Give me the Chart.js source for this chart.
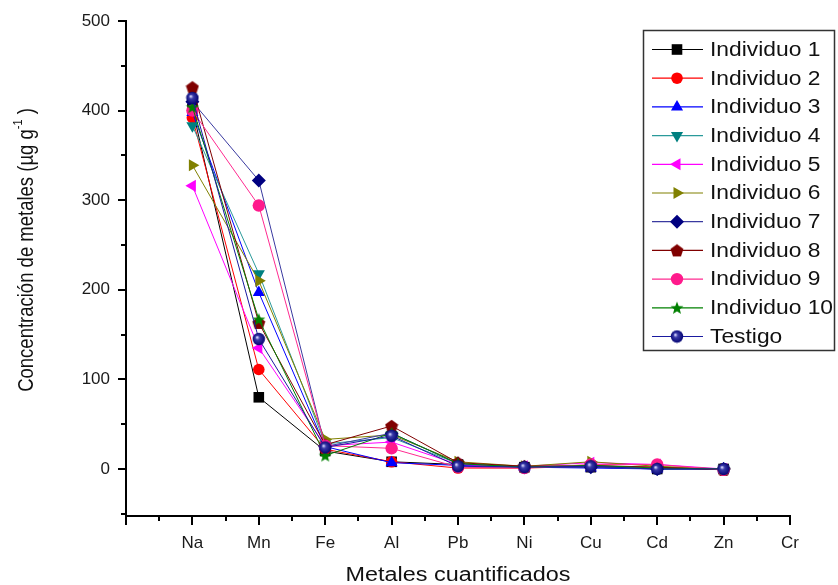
<!DOCTYPE html>
<html>
<head>
<meta charset="utf-8">
<script src="https://cdn.jsdelivr.net/npm/chart.js@4/dist/chart.umd.min.js"></script>
<style>
  html, body { margin: 0; padding: 0; background: #fff; }
  #wrap { width: 838px; height: 585px; }
</style>
</head>
<body>
<div id="wrap"><canvas id="chart" width="838" height="585"></canvas></div>
<script>
// metals on the x axis (position 1..10), no data for Cr
const metals = ['Na', 'Mn', 'Fe', 'Al', 'Pb', 'Ni', 'Cu', 'Cd', 'Zn', 'Cr'];
const yTicks = [0, 100, 200, 300, 400, 500];

const individuo1  = [402,  80, 20,  8, 5, 2, 2, 0,  0];
const individuo2  = [392, 111, 22,  8, 1, 1, 3, 2,  0];
const individuo3  = [398, 197, 25,  7, 4, 2, 1, 0,  0];
const individuo4  = [383, 218, 28, 35, 6, 2, 3, 0,  0];
const individuo5  = [316, 135, 26, 30, 5, 3, 7, 5,  0];
const individuo6  = [339, 210, 33, 38, 8, 3, 8, 3,  0];
const individuo7  = [410, 322, 25, 40, 6, 2, 2, 0,  0];
const individuo8  = [426, 163, 27, 48, 7, 3, 4, 2, -1];
const individuo9  = [400, 294, 26, 23, 2, 1, 5, 5, -1];
const individuo10 = [404, 167, 15, 40, 6, 2, 4, 1,  0];
const testigo     = [414, 145, 24, 37, 3, 2, 3, 0,  0];

// little canvases for the marker shapes chart.js does not have
function markerCanvas(size, paint) {
    const c = document.createElement('canvas');
    c.width = size; c.height = size;
    paint(c.getContext('2d'), size / 2);
    return c;
}
const pentagon = markerCanvas(14, (g, m) => {
    g.fillStyle = '#800000';
    g.beginPath();
    for (let k = 0; k < 5; k++) {
        const a = -Math.PI / 2 + k * 2 * Math.PI / 5;
        g.lineTo(m + Math.cos(a) * 6.8, m + 0.6 + Math.sin(a) * 6.8);
    }
    g.closePath(); g.fill();
});
const star = markerCanvas(14, (g, m) => {
    g.fillStyle = '#008000';
    g.beginPath();
    for (let k = 0; k < 10; k++) {
        const a = -Math.PI / 2 + k * Math.PI / 5;
        const r = k % 2 ? 2.9 : 6.8;
        g.lineTo(m + Math.cos(a) * r, m + 0.6 + Math.sin(a) * r);
    }
    g.closePath(); g.fill();
});
const sphere = markerCanvas(14, (g, m) => {
    const grad = g.createRadialGradient(m - 1.8, m - 1.8, 0.4, m, m, 6.5);
    grad.addColorStop(0, '#d8d8ff');
    grad.addColorStop(0.3, '#3a3aa8');
    grad.addColorStop(1, '#000070');
    g.fillStyle = grad;
    g.beginPath(); g.arc(m, m, 6.2, 0, Math.PI * 2); g.fill();
});

const seriesDefs = [
    { label: 'Individuo 1',  values: individuo1,  line: '#000000', fill: '#000000', style: 'rect',     radius: 7.5, rot: 0 },
    { label: 'Individuo 2',  values: individuo2,  line: '#ff0000', fill: '#ff0000', style: 'circle',   radius: 5.8, rot: 0 },
    { label: 'Individuo 3',  values: individuo3,  line: '#0000ff', fill: '#0000ff', style: 'triangle', radius: 7,   rot: 0 },
    { label: 'Individuo 4',  values: individuo4,  line: '#2a9a9a', fill: '#008080', style: 'triangle', radius: 7,   rot: 180 },
    { label: 'Individuo 5',  values: individuo5,  line: '#ff00ff', fill: '#ff00ff', style: 'triangle', radius: 7,   rot: 270 },
    { label: 'Individuo 6',  values: individuo6,  line: '#808000', fill: '#808000', style: 'triangle', radius: 7,   rot: 90 },
    { label: 'Individuo 7',  values: individuo7,  line: '#3a3aa0', fill: '#000080', style: 'rectRot',  radius: 7,   rot: 0 },
    { label: 'Individuo 8',  values: individuo8,  line: '#800000', fill: '#800000', style: pentagon,   radius: 7,   rot: 0 },
    { label: 'Individuo 9',  values: individuo9,  line: '#ff2a90', fill: '#ff1a8c', style: 'circle',   radius: 6.2, rot: 0 },
    { label: 'Individuo 10', values: individuo10, line: '#008000', fill: '#008000', style: star,       radius: 7,   rot: 0 },
    { label: 'Testigo',      values: testigo,     line: '#1a1aa0', fill: '#000080', style: sphere,     radius: 7,   rot: 0 }
];

const datasets = seriesDefs.map((s, i) => ({
    label: s.label,
    data: s.values.map((v, j) => ({ x: j + 1, y: v })),
    borderColor: s.line,
    backgroundColor: s.fill,
    pointBackgroundColor: s.fill,
    pointBorderColor: s.fill,
    pointBorderWidth: 0,
    borderWidth: 1,
    pointStyle: s.style,
    pointRadius: s.radius,
    pointRotation: s.rot,
    tension: 0,
    order: seriesDefs.length - i   // later series on top, like the original
}));

const FONT = '"Liberation Sans", Arial, sans-serif';
const STRETCH = 1.17; // the original picture is a bit wide

// ticks (major + minor), axis titles and the boxed legend
const extrasPlugin = {
    id: 'extras',
    afterDraw(chart) {
        const ctx = chart.ctx;
        const xs = chart.scales.x, ys = chart.scales.y;
        const area = chart.chartArea;
        ctx.save();
        ctx.strokeStyle = '#000';
        ctx.lineWidth = 2;
        ctx.beginPath();
        for (let v = 0; v <= 10; v += 0.5) {
            const px = Math.round(xs.getPixelForValue(v));
            const len = Number.isInteger(v) ? 9 : 5;
            ctx.moveTo(px, area.bottom); ctx.lineTo(px, area.bottom + len);
        }
        for (let v = -50; v <= 500; v += 50) {
            const py = Math.round(ys.getPixelForValue(v));
            const len = v % 100 === 0 ? 8 : 5;
            ctx.moveTo(area.left, py); ctx.lineTo(area.left - len, py);
        }
        ctx.stroke();

        // x title
        ctx.fillStyle = '#111';
        ctx.textBaseline = 'middle';
        ctx.textAlign = 'center';
        ctx.save();
        ctx.translate((area.left + area.right) / 2, 575);
        ctx.scale(STRETCH, 1);
        ctx.font = '20px ' + FONT;
        ctx.fillText('Metales cuantificados', 0, 0);
        ctx.restore();

        // y title with superscript
        ctx.save();
        ctx.translate(27, 250);
        ctx.rotate(-Math.PI / 2);
        ctx.scale(1, STRETCH);
        const main = 'Concentración de metales (µg g';
        const sup = '-1';
        const tail = ' )';
        ctx.font = '18.5px ' + FONT;
        const wMain = ctx.measureText(main).width;
        const wTail = ctx.measureText(tail).width;
        ctx.font = '11px ' + FONT;
        const wSup = ctx.measureText(sup).width;
        let x0 = -(wMain + wSup + wTail) / 2;
        ctx.textAlign = 'left';
        ctx.font = '18.5px ' + FONT;
        ctx.fillText(main, x0, 0);
        ctx.font = '11px ' + FONT;
        ctx.fillText(sup, x0 + wMain, -7);
        ctx.font = '18.5px ' + FONT;
        ctx.fillText(tail, x0 + wMain + wSup, 0);
        ctx.restore();

        // legend
        const bx = 643.5, by = 30.5, bw = 191, bh = 320;
        ctx.fillStyle = '#fff';
        ctx.fillRect(bx, by, bw, bh);
        ctx.strokeStyle = '#333';
        ctx.lineWidth = 1.5;
        ctx.strokeRect(bx, by, bw, bh);
        chart.data.datasets.forEach((ds, i) => {
            const y = 49.5 + i * 28.7;
            ctx.strokeStyle = ds.borderColor;
            ctx.lineWidth = 1.2;
            ctx.beginPath();
            ctx.moveTo(652, y); ctx.lineTo(703, y);
            ctx.stroke();
            ctx.fillStyle = ds.pointBackgroundColor;
            ctx.strokeStyle = ds.pointBackgroundColor;
            Chart.helpers.drawPoint(ctx, {
                pointStyle: ds.pointStyle,
                rotation: ds.pointRotation,
                radius: ds.pointRadius,
                borderWidth: 0
            }, 677, y);
            ctx.save();
            ctx.translate(710, y + 1);
            ctx.scale(STRETCH, 1);
            ctx.fillStyle = '#111';
            ctx.textAlign = 'left';
            ctx.font = '19.5px ' + FONT;
            ctx.fillText(ds.label, 0, 0);
            ctx.restore();
        });
        ctx.restore();
    }
};

new Chart(document.getElementById('chart'), {
    type: 'line',
    data: { datasets: datasets },
    options: {
        responsive: false,
        animation: false,
        layout: { padding: { top: 21, right: 48, left: 0, bottom: 0 } },
        plugins: { legend: { display: false }, tooltip: { enabled: false } },
        scales: {
            x: {
                type: 'linear',
                min: 0, max: 10,
                afterFit: s => { s.height = 69; s.paddingLeft = 0; s.paddingRight = 0; },
                grid: { display: false, drawTicks: false },
                border: { display: true, color: '#000', width: 2 },
                ticks: {
                    stepSize: 1,
                    autoSkip: false,
                    maxRotation: 0,
                    padding: 17,
                    color: '#1a1a1a',
                    font: { family: FONT, size: 17 },
                    callback: v => (Number.isInteger(v) && v >= 1 ? metals[v - 1] : '')
                }
            },
            y: {
                min: -52.5, max: 500,
                afterFit: s => { s.width = 126; s.paddingTop = 0; s.paddingBottom = 0; },
                grid: { display: false, drawTicks: false },
                border: { display: true, color: '#000', width: 2 },
                afterBuildTicks: s => {
                    const t = [];
                    for (let v = -50; v <= 500; v += 50) t.push({ value: v });
                    s.ticks = t;
                },
                ticks: {
                    autoSkip: false,
                    padding: 16,
                    color: '#1a1a1a',
                    font: { family: FONT, size: 17 },
                    callback: v => (yTicks.includes(v) ? String(v) : '')
                }
            }
        }
    },
    plugins: [extrasPlugin]
});
</script>
</body>
</html>
